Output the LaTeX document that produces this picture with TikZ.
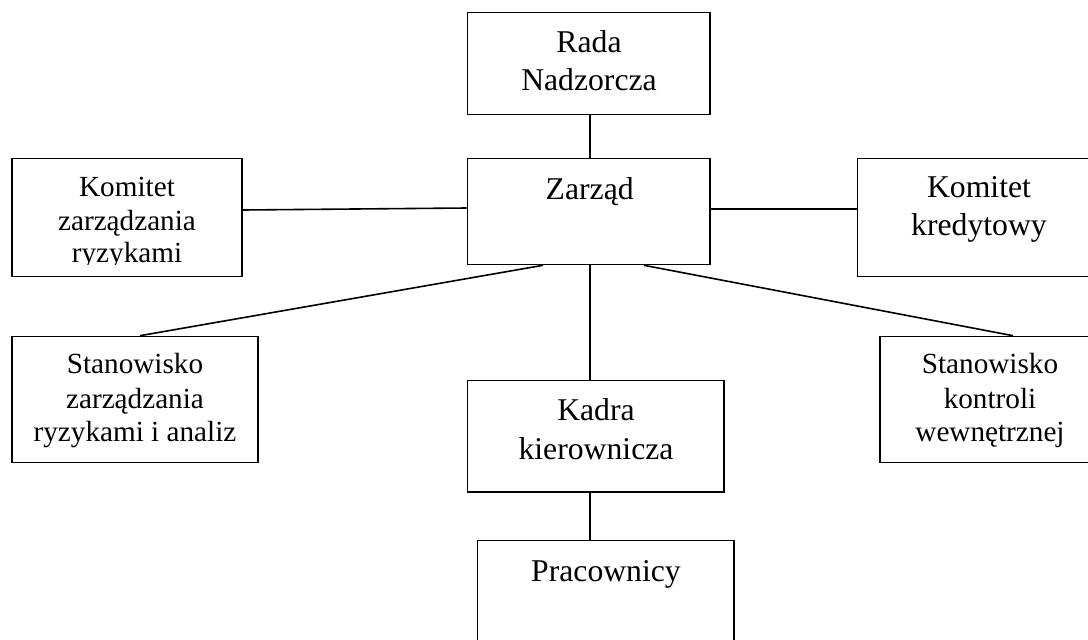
\documentclass[tikz,border=0pt]{standalone}
\usepackage{fontspec}
\setmainfont{Liberation Serif}
\begin{document}
\begin{tikzpicture}[x=1pt,y=-1pt,
  box/.style={draw=black,line width=1.6pt,rectangle,inner sep=0pt},
  link/.style={draw=black,line width=1.6pt},
  big/.style={inner sep=0pt,anchor=base,font=\fontsize{31.7}{38}\selectfont},
  small/.style={inner sep=0pt,anchor=base,font=\fontsize{29.2}{33}\selectfont}]
\useasboundingbox[fill=white] (0,0) rectangle (1088,640);
% boxes
\node[box,minimum width=242.5pt,minimum height=102pt] (rada) at (588.75,63.5) {};
\node[box,minimum width=242.5pt,minimum height=106pt] (zarzad) at (588.75,211.5) {};
\node[box,minimum width=230pt,minimum height=118pt] (kzr) at (127,217.5) {};
\node[box,minimum width=242.5pt,minimum height=118pt] (kkr) at (978.75,217.5) {};
\node[box,minimum width=246pt,minimum height=126pt] (szr) at (135,399.5) {};
\node[box,minimum width=220pt,minimum height=126pt] (skw) at (990,399.5) {};
\node[box,minimum width=256.5pt,minimum height=111.5pt] (kadra) at (595.75,436.25) {};
\node[box,minimum width=256.5pt,minimum height=119.5pt] (prac) at (605.75,600.25) {};
% texts
\node[big] (t-rada1) at (589,52.3) {Rada};
\node[big] (t-rada2) at (589,90) {Nadzorcza};
\node[big] (t-zarzad) at (589.7,199) {Zarząd};
\begin{scope}
\clip (12,158.5) rectangle (242,264.5);
\node[small] (t-kzr1) at (127,196.7) {Komitet};
\node[small] (t-kzr2) at (127,230.7) {zarządzania};
\node[small] (t-kzr3) at (127,262.7) {ryzykami};
\end{scope}
\node[big] (t-kkr1) at (979,197.7) {Komitet};
\node[big] (t-kkr2) at (979,235.7) {kredytowy};
\node[small] (t-szr1) at (135,373.3) {Stanowisko};
\node[small] (t-szr2) at (135,408.3) {zarządzania};
\node[small] (t-szr3) at (135,441.7) {ryzykami i analiz};
\node[small] (t-skw1) at (990,373.3) {Stanowisko};
\node[small] (t-skw2) at (990,408) {kontroli};
\node[small] (t-skw3) at (990,441.7) {wewnętrznej};
\node[big] (t-kadra1) at (596,420) {Kadra};
\node[big] (t-kadra2) at (596,459) {kierownicza};
\node[big] (t-prac) at (606,581.7) {Pracownicy};
% connectors
\draw[link] ([xshift=1.25pt]rada.south) -- ([xshift=1.25pt]zarzad.north);
\draw[link] ([yshift=7.5pt]kzr.east) -- ([yshift=3.5pt]zarzad.west);
\draw[link] ([yshift=2.5pt]zarzad.east) -- ([yshift=8.5pt]kkr.west);
\draw[link] ([xshift=-45.75pt]zarzad.south) -- ([xshift=5pt]szr.north);
\draw[link] ([xshift=55.25pt]zarzad.south) -- ([xshift=23pt]skw.north);
\draw[link] ([xshift=1.25pt]zarzad.south) -- ([xshift=-5.75pt]kadra.north);
\draw[link] ([xshift=-5.75pt]kadra.south) -- ([xshift=-15.75pt]prac.north);
\end{tikzpicture}
\end{document}
